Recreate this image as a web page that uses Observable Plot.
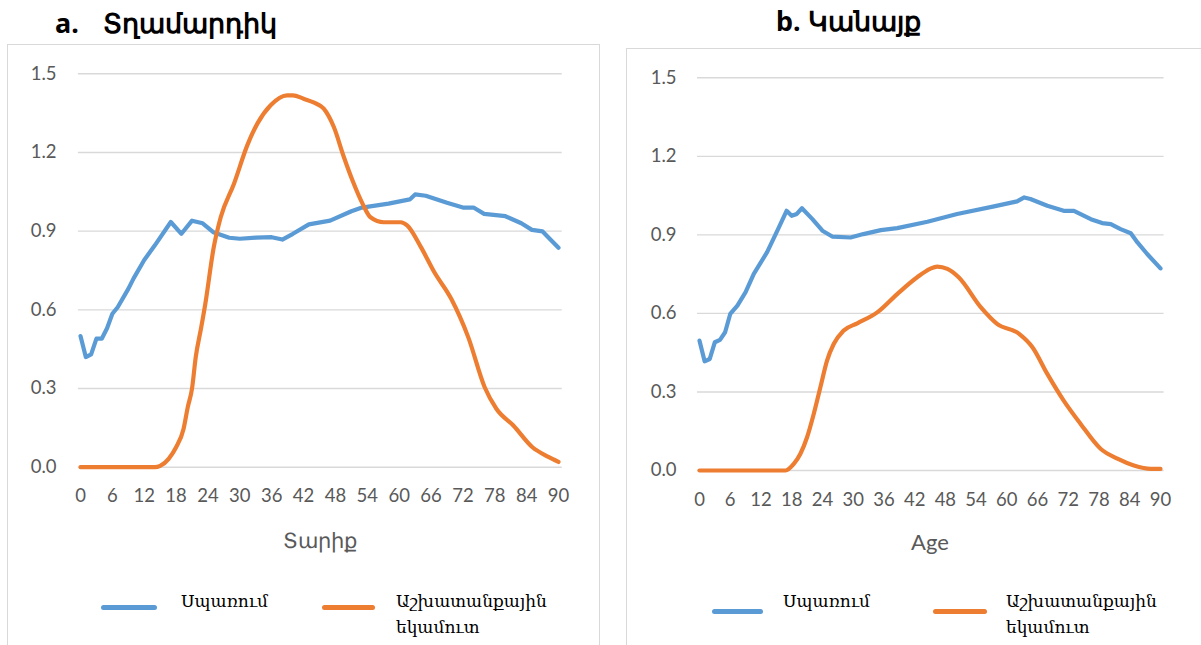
<!DOCTYPE html>
<html><head><meta charset="utf-8">
<script src="https://cdn.jsdelivr.net/npm/d3@7"></script>
<script src="https://cdn.jsdelivr.net/npm/@observablehq/plot@0.6"></script>
<style>
body{margin:0;background:#fff;width:1201px;height:645px;overflow:hidden;position:relative;font-family:Lato,sans-serif;}
.panel{position:absolute;border:1px solid #d9d9d9;background:#fff;box-sizing:border-box;}
.title{position:absolute;font-family:"Noto Sans",sans-serif;font-weight:bold;font-size:27px;color:#000;white-space:nowrap;line-height:1;}
.atitle{position:absolute;color:#595959;white-space:nowrap;transform:translate(-50%,-50%);line-height:1;}
.leg{position:absolute;font-family:"DejaVu Serif","Noto Sans",serif;font-size:17px;color:#000;line-height:26px;white-space:nowrap;}
.sw{position:absolute;height:5px;border-radius:3px;}
.chart{position:absolute;top:0;}
</style></head><body>
<div class="panel" style="left:7px;top:44px;width:593px;height:700px;"></div>
<div class="panel" style="left:626px;top:48px;width:700px;height:700px;"></div>
<div class="title" style="left:55px;top:9px;">a.<span style="margin-left:24px">Տղամարդիկ</span></div>
<div class="title" style="left:776px;top:7px;">b. Կանայք</div>
<div id="left" class="chart" style="left:0px;"></div>
<div id="right" class="chart" style="left:600px;"></div>
<div class="atitle" id="xtL" style="left:320px;top:540px;font-family:'Noto Sans',sans-serif;font-size:21px;"></div>
<div class="atitle" id="xtR" style="left:930px;top:542px;font-size:22px;"></div>
<div id="legends"></div>
<script>
// ---- data ----
const blueColor = "#5B9BD5";
const orangeColor = "#ED7D31";
const seriesNames = ["Սպառում", "Աշխատանքային եկամուտ"];
const panelTitles = ["Տղամարդիկ", "Կանայք"];
const axisTitles = ["Տարիք", "Age"];
const xTicks = [0, 6, 12, 18, 24, 30, 36, 42, 48, 54, 60, 66, 72, 78, 84, 90];
const yTicks = [0, 0.3, 0.6, 0.9, 1.2, 1.5];

// Men
const menConsAge = [0,1,2,3,4,5,6,7,9,10,12,14,17,19,21,23,25,28,30,33,36,38,40,43,47,51,53,58,62,63,65,69,72,74,76,80,83,85,87,90];
const menCons = [0.50,0.42,0.43,0.49,0.49,0.53,0.585,0.61,0.68,0.72,0.79,0.846,0.935,0.89,0.94,0.93,0.896,0.875,0.871,0.875,0.877,0.868,0.89,0.926,0.94,0.976,0.99,1.005,1.021,1.04,1.035,1.008,0.99,0.99,0.966,0.957,0.93,0.905,0.899,0.837];
const menLabAge = [0,14,15,16.6,18,19.4,20.2,21,21.7,22.7,23.5,25.1,26.4,28.9,31.4,33.3,35.8,38.9,40,42,44,45.8,47.7,49.6,51.2,53.1,54.6,57.1,60.3,61.5,64.1,66.6,69.8,73,76.1,78.3,81.5,85.1,88,90];
const menLab = [0,0,0.005,0.032,0.076,0.146,0.229,0.3,0.42,0.53,0.623,0.84,0.953,1.081,1.227,1.31,1.38,1.418,1.418,1.405,1.39,1.367,1.297,1.182,1.094,1.005,0.953,0.934,0.934,0.922,0.839,0.744,0.642,0.496,0.305,0.223,0.159,0.076,0.04,0.02];

// Women
const womenConsAge = [0,1,2,3,4,5,6,7.4,9,10.6,13.2,15.5,17,18,19,20,22,24,26,29.5,32,35.4,38.6,44.5,50.3,57.5,62,63.4,64.6,67.9,71.1,73.1,76.4,78.6,80.3,82.2,84.2,85.5,87.4,90];
const womenCons = [0.496,0.417,0.426,0.49,0.499,0.528,0.598,0.63,0.681,0.751,0.834,0.929,0.992,0.973,0.98,1.002,0.961,0.916,0.893,0.89,0.903,0.918,0.926,0.95,0.98,1.009,1.028,1.043,1.037,1.011,0.992,0.992,0.96,0.945,0.941,0.922,0.906,0.871,0.827,0.772];
const womenLabAge = [0,15,16.8,18.4,19.7,21,22.3,23.6,24.9,26.2,28.1,30.8,34.7,38.6,42.5,45,46.4,48.4,50.6,54.9,58.1,62.4,65,67.9,71.1,74.4,78.3,81.6,84.8,88.1,90];
const womenLab = [0,0,0,0.025,0.064,0.127,0.216,0.318,0.42,0.483,0.534,0.562,0.604,0.674,0.738,0.77,0.779,0.77,0.738,0.624,0.56,0.522,0.471,0.369,0.267,0.178,0.083,0.045,0.019,0.006,0.006];

function zip(xs, ys) { return xs.map((x, i) => ({age: x, v: ys[i]})); }

function makeChart(cfg) {
  return Plot.plot({
    width: cfg.width, height: cfg.height,
    marginLeft: cfg.ml, marginRight: cfg.width - cfg.xr,
    marginTop: cfg.yt, marginBottom: cfg.height - cfg.yb,
    x: {domain: [0, 90]},
    y: {domain: [0, 1.5]},
    style: {fontFamily: "Lato, sans-serif", fontSize: "18.5px", color: "#595959", background: "transparent", overflow: "visible"},
    marks: [
      Plot.ruleY(yTicks, {y: d => d, x1: -0.4, x2: 90.7, stroke: "#d9d9d9", strokeWidth: 1.4}),
      Plot.axisY(yTicks, {tickSize: 0, tickPadding: cfg.yPad, tickFormat: d3.format(".1f"), label: null, fill: "#595959"}),
      Plot.axisX(xTicks, {tickSize: 0, tickPadding: 22, label: null, fill: "#595959"}),
      Plot.line(zip(cfg.consAge, cfg.cons), {x: "age", y: "v", stroke: blueColor, strokeWidth: 4.2, strokeLinejoin: "round", strokeLinecap: "round"}),
      Plot.line(zip(cfg.labAge, cfg.lab), {x: "age", y: "v", stroke: orangeColor, strokeWidth: 4.2, curve: "monotone-x", strokeLinecap: "round"})
    ]
  });
}

document.getElementById("left").append(makeChart({
  width: 600, height: 520, ml: 80, xr: 558, yt: 73.3, yb: 466.7, yPad: 24,
  consAge: menConsAge, cons: menCons, labAge: menLabAge, lab: menLab
}));
document.getElementById("right").append(makeChart({
  width: 601, height: 520, ml: 99, xr: 560, yt: 77.3, yb: 470, yPad: 23,
  consAge: womenConsAge, cons: womenCons, labAge: womenLabAge, lab: womenLab
}));
document.getElementById("xtL").textContent = axisTitles[0];
document.getElementById("xtR").textContent = axisTitles[1];

// legends
const leg = document.getElementById("legends");
function addLegend(o) {
  leg.insertAdjacentHTML("beforeend",
    `<div class="sw" style="left:${o.b0}px;top:${o.sy - 2.5}px;width:${o.b1 - o.b0}px;background:${blueColor}"></div>` +
    `<div class="leg" style="left:${o.t1}px;top:${o.ty - 13}px;">${seriesNames[0]}</div>` +
    `<div class="sw" style="left:${o.o0}px;top:${o.sy - 2.5}px;width:${o.o1 - o.o0}px;background:${orangeColor}"></div>` +
    `<div class="leg" style="left:${o.t2}px;top:${o.ty - 13}px;">${seriesNames[1].split(" ").join("<br>")}</div>`);
}
addLegend({b0: 101, b1: 157, o0: 322, o1: 375, t1: 181, t2: 396, sy: 607, ty: 601});
addLegend({b0: 712, b1: 763, o0: 933, o1: 987, t1: 783, t2: 1006, sy: 611, ty: 601});
</script>
</body></html>
